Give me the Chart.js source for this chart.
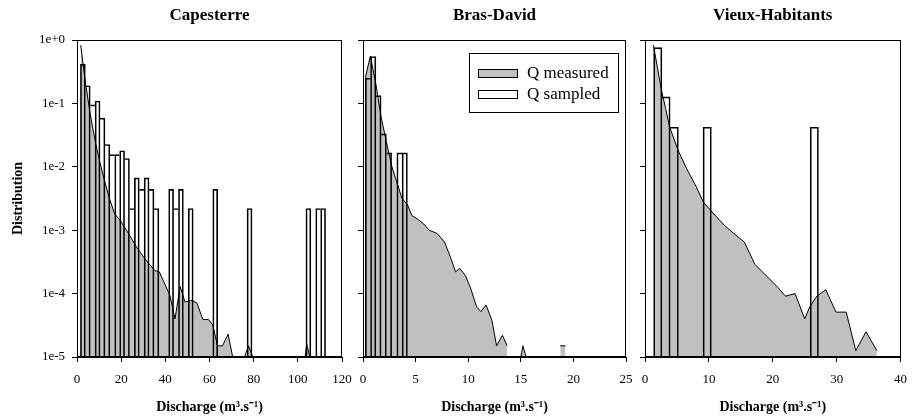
<!DOCTYPE html>
<html>
<head>
<meta charset="utf-8">
<title>Discharge distributions</title>
<script src="https://cdn.jsdelivr.net/npm/chart.js@4/dist/chart.umd.min.js"></script>
<style>
  body { margin: 0; background: #fff; }
  .wrap { position: relative; width: 917px; height: 416px; }
  .wrap canvas { position: absolute; left: 0; top: 0; }
</style>
</head>
<body>
<div class="wrap">
  <canvas id="c0" width="917" height="416"></canvas>
  <canvas id="c1" width="917" height="416"></canvas>
  <canvas id="c2" width="917" height="416"></canvas>
</div>
<script>
// ============================================================
// DATA
// ============================================================
const yTickValues = [1e-5, 1e-4, 1e-3, 1e-2, 1e-1, 1];
const yTickLabels = ['1e-5', '1e-4', '1e-3', '1e-2', '1e-1', '1e+0'];

// Capesterre
const capXTicks = [0, 20, 40, 60, 80, 100, 120];
const capMeasuredX = [1.7, 2.5, 4, 5.8, 8, 10.3, 12.6, 14.9, 17.1, 19.4, 22.4, 27, 30.8, 35.3, 37.3, 42.1, 44.4, 46.7,
  48.9, 52, 54.3, 57, 59.5, 61.5, 63.6, 65.9, 68.4, 70.5, 75.8, 77.7, 79.6, 103.3, 104, 105.5];
const capMeasuredY = [0.83, 0.48, 0.195, 0.074, 0.028, 0.012, 0.0058, 0.003, 0.0018, 0.00145, 0.001, 0.00054, 0.00035,
  0.00023, 0.00022, 0.000093, 0.00004, 0.00013, 0.000074, 0.000078, 0.000071, 0.000039, 0.000039, 0.000032,
  0.000015, 0.000015, 0.000023, 0.00001, 0.00001, 0.000015, 0.00001, 0.00001, 0.000016, 0.00001];
const capSampledX = [2.66, 4.88, 7.1, 9.32, 11.54, 13.76, 15.98, 18.2, 20.42, 22.64, 24.86, 27.08, 29.3, 31.52, 33.74,
  35.96, 42.62, 44.84, 47.06, 51.5, 62.6, 78.14, 104.78, 109.22, 111.44];
const capSampledY = [0.413, 0.19, 0.095, 0.109, 0.0586, 0.0225, 0.0156, 0.0156, 0.0179, 0.0135, 0.0022, 0.0067, 0.0044,
  0.0067, 0.0044, 0.0022, 0.0044, 0.0022, 0.0044, 0.0022, 0.0044, 0.0022, 0.0022, 0.0022, 0.0022];

// Bras-David
const bdXTicks = [0, 5, 10, 15, 20, 25];
const bdMeasuredX = [0.22, 0.7, 1.24, 1.71, 2.22, 2.7, 3.2, 3.7, 4.24, 4.65, 5.3, 5.76, 6.3, 7.03, 7.75, 8.3, 8.8, 9.2,
  9.75, 10.2, 10.8, 11.2, 11.7, 12.25, 12.7, 13.25, 13.7, 14.3, 15.0, 15.2, 15.5, 17, 18.75, 19.25];
const bdMeasuredY = [0.254, 0.56, 0.195, 0.062, 0.025, 0.0107, 0.0058, 0.0032, 0.0025, 0.0017, 0.00145, 0.00126, 0.001,
  0.00089, 0.00065, 0.00038, 0.00022, 0.00025, 0.00019, 0.000126, 0.000062, 0.000052, 0.000066, 0.000038, 0.000015,
  0.000022, 0.000015, null, 0.00001, 0.000015, 0.00001, null, 0.000015, 0.000015];
const bdSampledX = [0.47, 0.97, 1.47, 1.97, 2.47, 3.47, 3.97];
const bdSampledY = [0.25, 0.55, 0.133, 0.033, 0.0166, 0.0166, 0.0166];

// Vieux-Habitants
const vhXTicks = [0, 10, 20, 30, 40];
const vhMeasuredX = [1.32, 1.97, 2.58, 3.23, 3.84, 5.2, 6.53, 8.05, 9.1, 10.37, 12.4, 13.9, 15.55, 17.2, 19.0, 20.5,
  22.0, 23.5, 25.0, 25.8, 26.9, 28.3, 29.9, 31.5, 33.0, 34.6, 36.3];
const vhMeasuredY = [0.83, 0.355, 0.162, 0.083, 0.043, 0.018, 0.0093, 0.0048, 0.0028, 0.002, 0.0012, 0.00089, 0.00065,
  0.00029, 0.00019, 0.000135, 0.000091, 0.0001, 0.00004, 0.000062, 0.000091, 0.000115, 0.000051, 0.000051,
  0.0000126, 0.000025, 0.0000126];
const vhSampledX = [2.0, 3.29, 4.58, 9.74, 26.51];
const vhSampledY = [0.76, 0.127, 0.042, 0.042, 0.042];

// ============================================================
// STYLE / LAYOUT
// ============================================================
const SERIF = "'Liberation Serif', 'Times New Roman', serif";
const GREY = '#c0c0c0';
const PAGE_W = 917;

const panels = [
  { title: 'Capesterre', left: 77, right: 342, xTicks: capXTicks, mx: capMeasuredX, my: capMeasuredY, sx: capSampledX, sy: capSampledY, yLabels: true },
  { title: 'Bras-David', left: 363, right: 626, xTicks: bdXTicks, mx: bdMeasuredX, my: bdMeasuredY, sx: bdSampledX, sy: bdSampledY, legend: true },
  { title: 'Vieux-Habitants', left: 645, right: 909, xTicks: vhXTicks, mx: vhMeasuredX, my: vhMeasuredY, sx: vhSampledX, sy: vhSampledY },
];

// Box around the plot area (top + right sides included)
const framePlugin = {
  id: 'frame',
  afterDatasetsDraw(chart) {
    const { ctx, chartArea: a } = chart;
    ctx.save();
    ctx.strokeStyle = '#000';
    ctx.lineWidth = 1;
    ctx.strokeRect(Math.round(a.left) + 0.5, Math.round(a.top) + 0.5, Math.round(a.right - a.left) - 1, Math.round(a.bottom - a.top) - 1);
    ctx.restore();
  },
};

// Framed legend sitting inside the plot area (Bras-David panel)
const boxLegendPlugin = {
  id: 'boxLegend',
  afterDraw(chart, args, opts) {
    if (!opts.display) return;
    const { ctx, chartArea: a } = chart;
    const x0 = Math.round(a.right - 157), y0 = Math.round(a.top + 13);
    const fills = [GREY, '#fff'];
    ctx.save();
    ctx.fillStyle = '#fff';
    ctx.fillRect(x0, y0, 149, 59);
    ctx.strokeStyle = '#000';
    ctx.lineWidth = 1;
    ctx.strokeRect(x0 + 0.5, y0 + 0.5, 149, 59);
    chart.data.datasets.forEach((ds, i) => {
      const cy = y0 + 19.5 + i * 21.5;
      ctx.fillStyle = fills[i];
      ctx.fillRect(x0 + 9, Math.round(cy - 4), 39, 8);
      ctx.strokeRect(x0 + 9.5, Math.round(cy - 4) + 0.5, 39, 8);
      ctx.fillStyle = '#000';
      ctx.font = '17px ' + SERIF;
      ctx.textBaseline = 'middle';
      ctx.fillText(ds.label, x0 + 58, cy + 1);
    });
    ctx.restore();
  },
};

// ------------------------------------------------------------
// Helpers
// ------------------------------------------------------------
function toPoints(xs, ys) { return xs.map((x, i) => ({ x, y: ys[i] })); }

function minGap(xs) {
  let m = Infinity;
  for (let i = 1; i < xs.length; i++) m = Math.min(m, xs[i] - xs[i - 1]);
  return m;
}

function adjacent(xs, i, j) {
  if (i < 0 || j >= xs.length) return false;
  return xs[j] - xs[i] < 1.5 * minGap(xs);
}

// Neighbouring bins share a single edge line; the taller bar of the pair draws it.
function barBorders(xs, ys, i) {
  if (i == null) return 1;
  const rightOn = !adjacent(xs, i, i + 1) || ys[i + 1] < ys[i];
  const leftOn = !adjacent(xs, i - 1, i) || ys[i] >= ys[i - 1];
  return { left: leftOn ? 1 : 0, right: rightOn ? 1 : 0, top: 1, bottom: 0 };
}

function makePanel(p, idx) {
  const yAxisWidth = p.yLabels ? p.left : 5;
  return new Chart(document.getElementById('c' + idx), {
    type: 'line',
    data: {
      datasets: [
        {
          label: 'Q measured',
          data: toPoints(p.mx, p.my),
          borderColor: '#000',
          borderWidth: 1,
          backgroundColor: GREY,
          fill: 'start',
          pointRadius: 0,
          tension: 0,
          spanGaps: false,
          order: 2,
        },
        {
          type: 'bar',
          label: 'Q sampled',
          data: toPoints(p.sx, p.sy),
          backgroundColor: 'rgba(255,255,255,0)',
          borderColor: '#000',
          borderWidth: (c) => barBorders(p.sx, p.sy, c.dataIndex),
          borderSkipped: 'start',
          barPercentage: 1,
          categoryPercentage: 1,
          order: 1,
        },
      ],
    },
    options: {
      responsive: false,
      animation: false,
      events: [],
      layout: { padding: { left: p.left - yAxisWidth, right: PAGE_W - p.right, top: 0, bottom: 0 } },
      plugins: {
        legend: { display: false },
        tooltip: { enabled: false },
        title: {
          display: true, text: p.title, fullSize: false, color: '#000',
          font: { family: SERIF, size: 17, weight: 'bold' },
          padding: { top: 5, bottom: 14.6 },
        },
        boxLegend: { display: !!p.legend },
      },
      scales: {
        x: {
          type: 'linear',
          min: p.xTicks[0],
          max: p.xTicks[p.xTicks.length - 1],
          offset: false,
          afterBuildTicks: (s) => { s.ticks = p.xTicks.map(v => ({ value: v })); },
          afterFit: (s) => { s.height = 59; },
          grid: { drawOnChartArea: false, drawTicks: true, tickLength: 5, color: '#000', offset: false },
          border: { display: true, color: '#000' },
          ticks: { color: '#000', font: { family: SERIF, size: 13 }, padding: 10, maxRotation: 0, autoSkip: false },
          title: {
            display: true, text: 'Discharge (m³.s⁻¹)', color: '#000',
            font: { family: SERIF, size: 14, weight: 'bold' },
            padding: { top: 0, bottom: 0.6 },
          },
        },
        y: {
          type: 'logarithmic',
          min: yTickValues[0],
          max: yTickValues[yTickValues.length - 1],
          afterBuildTicks: (s) => { s.ticks = yTickValues.map(v => ({ value: v })); },
          afterFit: (s) => { s.width = yAxisWidth; },
          grid: { drawOnChartArea: false, drawTicks: true, tickLength: 5, color: '#000' },
          border: { display: true, color: '#000' },
          ticks: {
            display: !!p.yLabels, color: '#000', font: { family: SERIF, size: 13 }, padding: 7, autoSkip: false,
            callback: (v, i) => yTickLabels[i],
          },
          title: {
            display: !!p.yLabels, text: 'Distribution', color: '#000',
            font: { family: SERIF, size: 14, weight: 'bold' },
            padding: { top: 9.6, bottom: 0 },
          },
        },
      },
    },
    plugins: [framePlugin, boxLegendPlugin],
  });
}

panels.forEach(makePanel);
</script>
</body>
</html>
